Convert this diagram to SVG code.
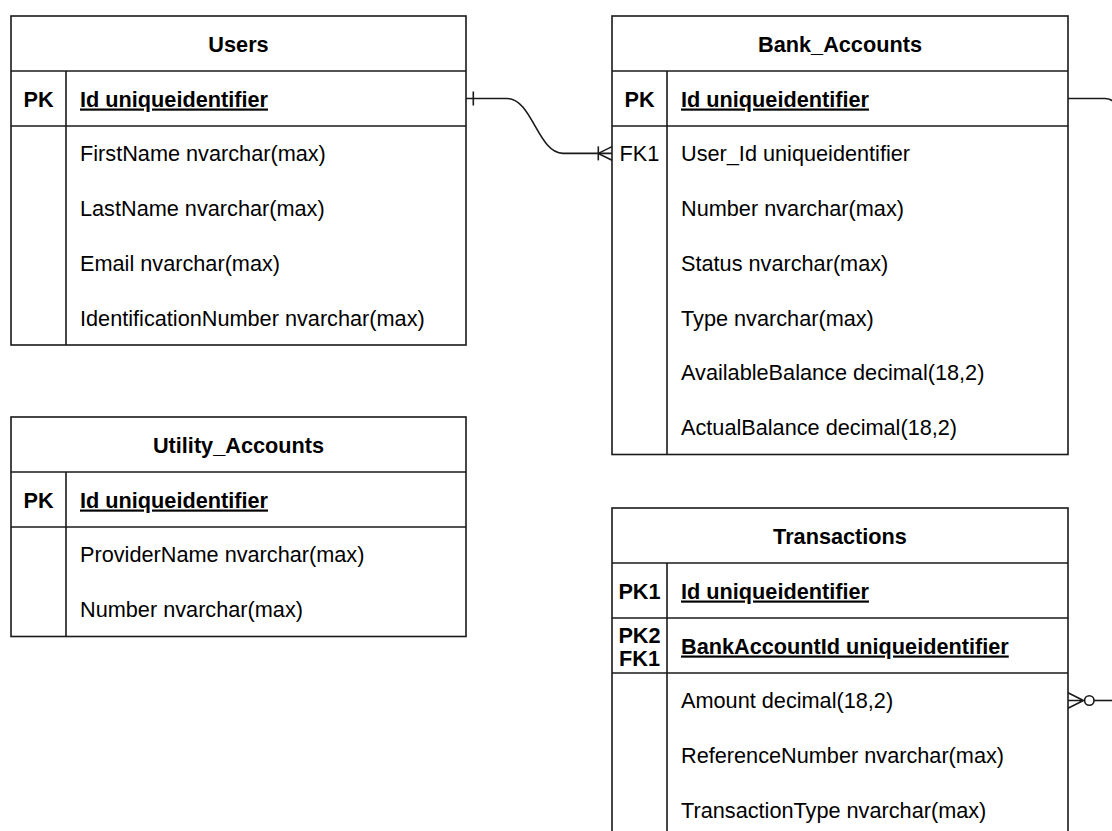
<svg xmlns="http://www.w3.org/2000/svg" width="1112" height="831" viewBox="0 0 1112 831">
<style>
.box{fill:#fff;stroke:#1a1a1a;stroke-width:1.6}
.ln{stroke:#1a1a1a;stroke-width:1.6;fill:none}
.t{font-family:"Liberation Sans",Arial,sans-serif;font-size:21.7px;fill:#000}
.h{font-weight:bold;text-anchor:middle}
.k{text-anchor:middle}
.b{font-weight:bold;text-decoration:underline}
.kb{font-weight:bold;text-anchor:middle}
.c{stroke:#1a1a1a;stroke-width:1.6;fill:none}
</style>
<rect width="1112" height="831" fill="#fff"/>

<g id="users">
<rect class="box" x="11" y="16" width="455" height="329"/>
<line class="ln" x1="11" y1="71" x2="466" y2="71"/>
<line class="ln" x1="11" y1="126" x2="466" y2="126"/>
<line class="ln" x1="66" y1="71" x2="66" y2="345"/>
<text class="t h" x="238.5" y="51.5">Users</text>
<text class="t kb" x="38.5" y="106.5">PK</text>
<text class="t b" x="80" y="106.5">Id uniqueidentifier</text>
<text class="t" x="80" y="161.4">FirstName nvarchar(max)</text>
<text class="t" x="80" y="216.1">LastName nvarchar(max)</text>
<text class="t" x="80" y="270.9">Email nvarchar(max)</text>
<text class="t" x="80" y="325.6">IdentificationNumber nvarchar(max)</text>
</g>

<g id="bank_accounts">
<rect class="box" x="612" y="16" width="456" height="438.5"/>
<line class="ln" x1="612" y1="71" x2="1068" y2="71"/>
<line class="ln" x1="612" y1="126" x2="1068" y2="126"/>
<line class="ln" x1="667" y1="71" x2="667" y2="454.5"/>
<text class="t h" x="840" y="51.5">Bank_Accounts</text>
<text class="t kb" x="639.5" y="106.5">PK</text>
<text class="t b" x="681" y="106.5">Id uniqueidentifier</text>
<text class="t k" x="639.5" y="161.4">FK1</text>
<text class="t" x="681" y="161.4">User_Id uniqueidentifier</text>
<text class="t" x="681" y="216.1">Number nvarchar(max)</text>
<text class="t" x="681" y="270.9">Status nvarchar(max)</text>
<text class="t" x="681" y="325.6">Type nvarchar(max)</text>
<text class="t" x="681" y="380.4">AvailableBalance decimal(18,2)</text>
<text class="t" x="681" y="435.1">ActualBalance decimal(18,2)</text>
</g>

<g id="utility_accounts">
<rect class="box" x="11" y="417" width="455" height="219.5"/>
<line class="ln" x1="11" y1="472" x2="466" y2="472"/>
<line class="ln" x1="11" y1="527" x2="466" y2="527"/>
<line class="ln" x1="66" y1="472" x2="66" y2="636.5"/>
<text class="t h" x="238.5" y="452.5">Utility_Accounts</text>
<text class="t kb" x="38.5" y="507.5">PK</text>
<text class="t b" x="80" y="507.5">Id uniqueidentifier</text>
<text class="t" x="80" y="562.4">ProviderName nvarchar(max)</text>
<text class="t" x="80" y="617.1">Number nvarchar(max)</text>
</g>

<g id="transactions">
<rect class="box" x="612" y="508" width="456" height="340"/>
<line class="ln" x1="612" y1="563" x2="1068" y2="563"/>
<line class="ln" x1="612" y1="618" x2="1068" y2="618"/>
<line class="ln" x1="612" y1="673" x2="1068" y2="673"/>
<line class="ln" x1="667" y1="563" x2="667" y2="848"/>
<text class="t h" x="840" y="543.5">Transactions</text>
<text class="t kb" x="639.5" y="598.5">PK1</text>
<text class="t b" x="681" y="598.5">Id uniqueidentifier</text>
<text class="t kb" x="639.5" y="643">PK2</text>
<text class="t kb" x="639.5" y="666">FK1</text>
<text class="t b" x="681" y="653.5">BankAccountId uniqueidentifier</text>
<text class="t" x="681" y="708.4">Amount decimal(18,2)</text>
<text class="t" x="681" y="763.1">ReferenceNumber nvarchar(max)</text>
<text class="t" x="681" y="817.9">TransactionType nvarchar(max)</text>
</g>

<g id="connectors">
<g id="users_bank">
<path class="c" d="M466 98.5 H507 C532 98.5 538 153.4 563 153.4 H612"/>
<line class="c" x1="473.3" y1="91.5" x2="473.3" y2="105.5"/>
<line class="c" x1="598.3" y1="146.4" x2="598.3" y2="160.4"/>
<path class="c" d="M612 146.6 L598.3 153.4 L612 160.2"/>
</g>
<g id="bank_out">
<path class="c" d="M1068 98.5 H1105 Q1110 98.5 1114 102"/>
</g>
<g id="trans_out">
<path class="c" d="M1068 692.7 L1083.5 700.5 L1068 708.3 M1068 700.5 H1084.6"/>
<circle class="c" cx="1089.3" cy="700.5" r="4.7"/>
<path class="c" d="M1094 700.5 H1114"/>
</g>
</g>
</svg>
